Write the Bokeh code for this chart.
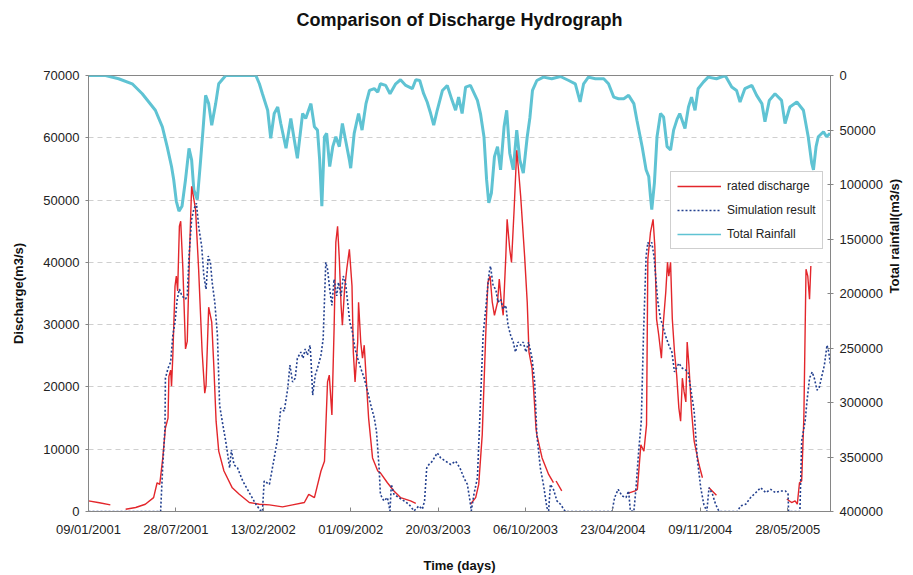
import math
import numpy as np
from bokeh.plotting import figure
from bokeh.models import (Range1d, LinearAxis, FixedTicker, Legend, LegendItem,
                          NumeralTickFormatter, Title)
from bokeh.embed import file_html
from bokeh.resources import INLINE

NaN = float("nan")

# ---------------- data ----------------
tick_days = [0, 200, 400, 600, 800, 1000, 1200, 1400, 1600]
tick_labels = ["09/01/2001", "28/07/2001", "13/02/2002", "01/09/2002", "20/03/2003",
               "06/10/2003", "23/04/2004", "09/11/2004", "28/05/2005"]
discharge_ticks = [0, 10000, 20000, 30000, 40000, 50000, 60000, 70000]
rain_ticks = [0, 50000, 100000, 150000, 200000, 250000, 300000, 350000, 400000]

# rated discharge (m3/s); NaN marks gaps in the record
rated_days = [0, 25, 50, NaN,
              85, 108, 130, 149, 157, 163, 170, 176, 182, 184, 188, 190, 193, 198, 201, 204,
              208, 211, 216, 222, 226, 231, 236, 240, 245, 252, 260, 266, 269, 275, 282, 287,
              292, 298, 310, 329, 345, 368, 391, 414, 444, 467, 494, 504, 517, 532, 540, 543,
              547, 551, 557, 562, 566, 570, 574, 578, 581, 586, 591, 597, 603, 606, 610, 616,
              618, 623, 627, 631, 635, 641, 650, 662, 668, 684, 699, 714, 737, 749, NaN,
              874, 886, 893, 901, 909, 914, 919, 924, 929, 936, 940, 945, 949, 955, 958, 964,
              968, 974, 980, 984, 989, 998, 1004, 1008, 1015, 1019, 1024, 1026, 1038, 1053,
              1064, NaN,
              1070, 1083, NaN,
              1234, 1251, 1256, 1264, 1271, 1277, 1280, 1286, 1292, 1296, 1300, 1305, 1311,
              1315, 1321, 1325, 1328, 1332, 1336, 1341, 1346, 1351, 1355, 1359, 1363, 1367,
              1370, 1374, 1380, 1386, 1397, 1405, NaN,
              1420, 1437, NaN,
              1598, 1609, 1617, 1622, 1627, 1632, 1637, 1642, 1646, 1650, 1653]
rated_q = [1700, 1400, 1070, NaN,
           370, 640, 1160, 2230, 4620, 4350, 8600, 13400, 15000, 21700, 22700, 20100, 25100,
           36200, 37800, 35400, 45800, 46600, 38900, 26100, 27300, 41000, 52200, 50600, 48500,
           38900, 25700, 19000, 20300, 32800, 30400, 23000, 14500, 9700, 6500, 3800, 2760,
           1440, 1170, 1070, 750, 1070, 1440, 2760, 2230, 6500, 8080, 13400, 20800, 21900,
           15500, 29300, 43200, 45800, 40500, 33100, 29900, 35700, 38900, 42100, 36200, 25600,
           20800, 27200, 33600, 27200, 24600, 26700, 21900, 15000, 8600, 6500, 6200, 4620,
           3300, 2230, 1700, 1320, NaN,
           1160, 2230, 4350, 12300, 28300, 36800, 37800, 33600, 31500, 33600, 37300, 33600,
           31500, 41000, 46900, 42100, 40000, 48500, 58000, 54900, 50600, 41000, 33600, 25600,
           23000, 19200, 13400, 12300, 8600, 5950, 4620, NaN,
           4900, 3300, NaN,
           2900, 3300, 3560, 10700, 9680, 13900, 40500, 44800, 46900, 42600, 30900, 28300,
           24600, 29900, 35200, 40000, 37800, 40000, 30900, 25600, 21900, 16600, 14500, 21400,
           19200, 17600, 27200, 23500, 16100, 11300, 7540, 5420, NaN,
           3800, 2600, NaN,
           2000, 1440, 1700, 1170, 4620, 4900, 15000, 38900, 37800, 34100, 39400]

# simulation result (m3/s)
sim_days = [0, 165, 170, 175, 176, 182, 188, 193, 198, 203, 208, 214, 222, 226, 230, 236, 241,
            247, 252, 259, 264, 269, 274, 279, 283, 289, 295, 300, 306, 314, 323, 327, 333,
            341, 353, 368, 383, 394, 398, 402, 414, 425, 433, 440, 448, 456, 461, 467, 473,
            478, 486, 491, 496, 501, 507, 509, 513, 519, 524, 532, 537, 543, 547, 552, 557,
            562, 568, 572, 578, 583, 588, 593, 598, 604, 610, 616, 623, 631, 639, 646, 654,
            659, 665, 668, 676, 684, 690, 693, 699, 710, 722, 733, 745, 756, 764, 769, 774,
            779, 787, 798, 806, 817, 829, 840, 850, 859, 867, 873, 876, 882, 890, 897, 903,
            909, 913, 917, 920, 926, 932, 937, 943, 949, 955, 960, 966, 972, 977, 983, 989,
            995, 1001, 1007, 1015, 1021, 1026, 1034, 1041, 1049, 1053, 1057, 1064, 1072, 1080,
            1091, 1198, 1204, 1212, 1221, 1230, 1236, 1240, 1248, 1253, 1259, 1265, 1270, 1276,
            1280, 1285, 1289, 1294, 1299, 1303, 1309, 1314, 1320, 1328, 1335, 1341, 1351, 1359,
            1367, 1372, 1378, 1386, 1393, 1401, 1408, 1415, 1420, 1428, 1435, 1443, 1485, 1492,
            1504, 1515, 1531, 1538, 1550, 1561, 1572, 1584, 1595, 1601, 1602, 1628, 1632, 1636,
            1640, 1644, 1650, 1656, 1661, 1667, 1672, 1677, 1684, 1690, 1694, 1698]
sim_q = [0, 0, 7540, 13400, 21400, 23000, 24000, 28300, 30400, 34100, 35700, 34600, 34100,
         34600, 41000, 46900, 48500, 49500, 45800, 42600, 37800, 35700, 41000, 40000, 36800,
         33600, 28300, 17100, 14500, 11300, 7000, 9900, 7500, 7000, 4900, 3030, 1170, 100, 0,
         4900, 4350, 8600, 11800, 16600, 16100, 19800, 23500, 20800, 21400, 24600, 25600,
         24600, 26100, 25100, 26700, 24600, 18700, 21900, 23000, 25100, 27700, 40000, 38900,
         35700, 33100, 37300, 34600, 36800, 34600, 37800, 36800, 33600, 30400, 28800, 26100,
         24600, 23000, 21400, 19200, 17100, 15000, 12900, 7000, 2760, 1700, 2230, 100, 4350,
         2760, 2230, 1700, 1170, 100, 900, 370, 1700, 7000, 7540, 8080, 9410, 8600, 8080,
         7540, 8080, 7000, 5420, 4350, 1700, 100, 2760, 5420, 17600, 28300, 32500, 35700,
         38400, 39400, 36200, 35700, 33600, 34100, 32500, 33100, 29900, 28300, 27200, 25600,
         27200, 26700, 27200, 25600, 27200, 24600, 20800, 12300, 7000, 4350, 640, 100, 4350,
         3560, 1700, 1170, 0, 0, 2230, 3560, 2500, 2230, 3300, 100, 0, 3830, 9680, 14500,
         28300, 41000, 43200, 42600, 43200, 41000, 36800, 33600, 30900, 29900, 28300, 26700,
         25600, 22400, 23800, 23000, 22700, 22400, 19800, 16100, 8600, 3830, 1170, 0, 3830,
         2760, 1170, 0, 0, 900, 1170, 2230, 3300, 3830, 3030, 3560, 3030, 3300, 3300, 2760,
         0, 0, 11300, 12900, 14500, 17600, 21400, 22400, 21400, 19500, 19800, 21400, 23500,
         26700, 25600, 23500]

# total rainfall (m3/s), plotted on the reversed right axis
rain_days = [0, 39, 69, 100, 123, 138, 153, 169, 180, 190, 195, 201, 207, 214, 222, 230, 236,
             241, 249, 256, 262, 268, 275, 282, 291, 298, 314, 383, 391, 398, 410, 417, 425,
             433, 440, 452, 463, 471, 478, 490, 497, 509, 517, 524, 529, 534, 540, 545, 552,
             559, 566, 574, 581, 589, 597, 600, 608, 618, 626, 635, 643, 654, 662, 668, 680,
             690, 703, 714, 726, 741, 749, 758, 767, 775, 783, 790, 798, 810, 821, 832, 840,
             847, 855, 863, 874, 890, 897, 905, 911, 916, 922, 929, 936, 943, 951, 957, 964,
             972, 980, 987, 995, 1004, 1010, 1016, 1026, 1041, 1060, 1080, 1099, 1114, 1125,
             1133, 1144, 1160, 1179, 1190, 1202, 1213, 1225, 1236, 1248, 1255, 1267, 1276,
             1282, 1286, 1289, 1295, 1301, 1309, 1316, 1324, 1332, 1339, 1347, 1353, 1365,
             1373, 1380, 1388, 1395, 1407, 1418, 1437, 1457, 1472, 1483, 1491, 1502, 1518,
             1529, 1541, 1548, 1558, 1571, 1586, 1594, 1605, 1621, 1636, 1647, 1655, 1659,
             1665, 1670, 1682, 1689, 1697]
rain_total = [0, 0, 3000, 7600, 16700, 24300, 31900, 47100, 65300, 83500, 95600, 115400,
              124500, 120000, 95600, 66800, 77400, 104800, 113900, 80400, 50100, 18200, 25800,
              45600, 25800, 7600, 0, 0, 7600, 16700, 31900, 57700, 34900, 28900, 44000, 66800,
              39400, 59200, 75900, 34900, 39400, 25800, 47100, 50100, 77400, 120000, 56200,
              53100, 83500, 65300, 56200, 65300, 44000, 60800, 77400, 85000, 53100, 34900,
              50100, 25800, 13700, 12100, 15200, 7600, 9100, 16700, 7600, 3900, 9100, 12100,
              3900, 4600, 16700, 24300, 34900, 45600, 31900, 13700, 9100, 22800, 31900, 19800,
              34900, 10600, 9100, 22800, 34900, 56200, 95600, 116900, 107800, 74400, 65300,
              86500, 47100, 31900, 71300, 86500, 50100, 77400, 89500, 56200, 39000, 13700,
              4600, 1500, 3000, 900, 4600, 7600, 24300, 7600, 1500, 3000, 3000, 7600, 19800,
              21300, 21300, 18200, 25800, 41000, 65300, 86500, 92600, 110900, 123000, 98700,
              56200, 34900, 38000, 65300, 68300, 50100, 40000, 34900, 48600, 28900, 19800,
              31900, 12100, 6100, 1500, 3000, 0, 10600, 13700, 24300, 12100, 9100, 18200,
              25800, 42500, 22800, 16700, 22800, 44000, 28900, 24300, 31900, 56200, 80400,
              86500, 65300, 56200, 51600, 56200, 53100]

# ---------------- figure ----------------
FONT = "Liberation Sans"
GRAY = "#868686"
CYAN = "#5fc3d3"

p = figure(width=913, height=575, output_backend="svg", toolbar_location=None,
           x_range=Range1d(0, 1698), y_range=Range1d(0, 70000),
           min_border_left=88, min_border_right=83, min_border_top=75, min_border_bottom=61)
p.extra_y_ranges = {"rain": Range1d(start=400000, end=0)}

# title: a blank spacer title next to the frame, the real title above it
p.add_layout(Title(text=" ", text_font_size="2px", standoff=42), "above")
p.add_layout(Title(text="Comparison of Discharge Hydrograph", align="center",
                   text_font=FONT, text_font_size="18px", text_font_style="bold",
                   text_color="#111111", standoff=0), "above")

p.background_fill_color = "white"
p.border_fill_color = "white"
p.outline_line_color = GRAY
p.outline_line_width = 1

p.xgrid.grid_line_color = None
p.ygrid.grid_line_color = "#cfcfcf"
p.ygrid.grid_line_dash = "5 4"
p.ygrid.ticker = FixedTicker(ticks=discharge_ticks)

# x axis
xa = p.xaxis[0]
xa.ticker = FixedTicker(ticks=tick_days)
xa.major_label_overrides = {d: lab for d, lab in zip(tick_days, tick_labels)}
xa.axis_label = "Time (days)"

# left axis
ya = p.yaxis[0]
ya.ticker = FixedTicker(ticks=discharge_ticks)
ya.formatter = NumeralTickFormatter(format="0")
ya.axis_label = "Discharge(m3/s)"

# right axis
ra = LinearAxis(y_range_name="rain", ticker=FixedTicker(ticks=rain_ticks),
                formatter=NumeralTickFormatter(format="0"))
p.add_layout(ra, "right")

for ax in (xa, ya, ra):
    ax.axis_line_color = GRAY
    ax.major_tick_line_color = GRAY
    ax.minor_tick_line_color = None
    ax.major_label_text_font = FONT
    ax.major_label_text_font_size = "13px"
    ax.major_label_text_color = "#222222"
    ax.axis_label_text_font = FONT
    ax.axis_label_text_font_size = "13px"
    ax.axis_label_text_font_style = "bold"
    ax.axis_label_text_color = "#111111"

xa.major_tick_in = 4
xa.major_tick_out = 0
xa.major_label_standoff = 10
xa.axis_label_standoff = 18
ya.major_tick_in = 0
ya.major_tick_out = 3
ya.major_label_standoff = 6
ya.axis_label_standoff = 14
ra.major_tick_in = 3
ra.major_tick_out = 3
ra.major_label_standoff = 6

# right-axis title, drawn as a single rotated label of an outer, line-less axis
rt = LinearAxis(y_range_name="rain", ticker=FixedTicker(ticks=[200000]),
                major_label_overrides={200000: "Total rainfall(m3/s)"},
                major_label_orientation=math.pi / 2)
rt.axis_line_color = None
rt.major_tick_line_color = None
rt.minor_tick_line_color = None
rt.major_tick_in = 0
rt.major_tick_out = 0
rt.major_label_standoff = 9
rt.major_label_text_font = FONT
rt.major_label_text_font_size = "13px"
rt.major_label_text_font_style = "bold"
rt.major_label_text_color = "#111111"
p.add_layout(rt, "right")

# ---------------- series ----------------
r_rain = p.line(np.array(rain_days, dtype=float), np.array(rain_total, dtype=float),
                y_range_name="rain", line_color=CYAN, line_width=3)
r_rated = p.line(np.array(rated_days, dtype=float), np.array(rated_q, dtype=float),
                 line_color="#e3262b", line_width=1.4)
r_sim = p.line(np.array(sim_days, dtype=float), np.array(sim_q, dtype=float),
               line_color="#23408f", line_width=1.6, line_dash="2 2")
# thinner one-point stand-in used only for the legend sample of the rainfall series
r_rain_key = p.line(x=rain_days[:1], y=rain_total[:1], y_range_name="rain",
                    line_color=CYAN, line_width=1.6)

legend = Legend(items=[LegendItem(label="rated discharge", renderers=[r_rated]),
                       LegendItem(label="Simulation result", renderers=[r_sim]),
                       LegendItem(label="Total Rainfall", renderers=[r_rain_key])],
                location=(582, 262))
legend.label_text_font = FONT
legend.label_text_font_size = "12px"
legend.label_text_color = "#222222"
legend.border_line_color = "#a0a0a0"
legend.border_line_width = 1
legend.background_fill_color = "white"
legend.background_fill_alpha = 1.0
legend.padding = 6
legend.margin = 0
legend.spacing = 8
legend.label_height = 16
legend.glyph_height = 16
legend.glyph_width = 44
legend.label_standoff = 6
p.add_layout(legend, "center")

open("out.html", "w").write(file_html(p, INLINE))
